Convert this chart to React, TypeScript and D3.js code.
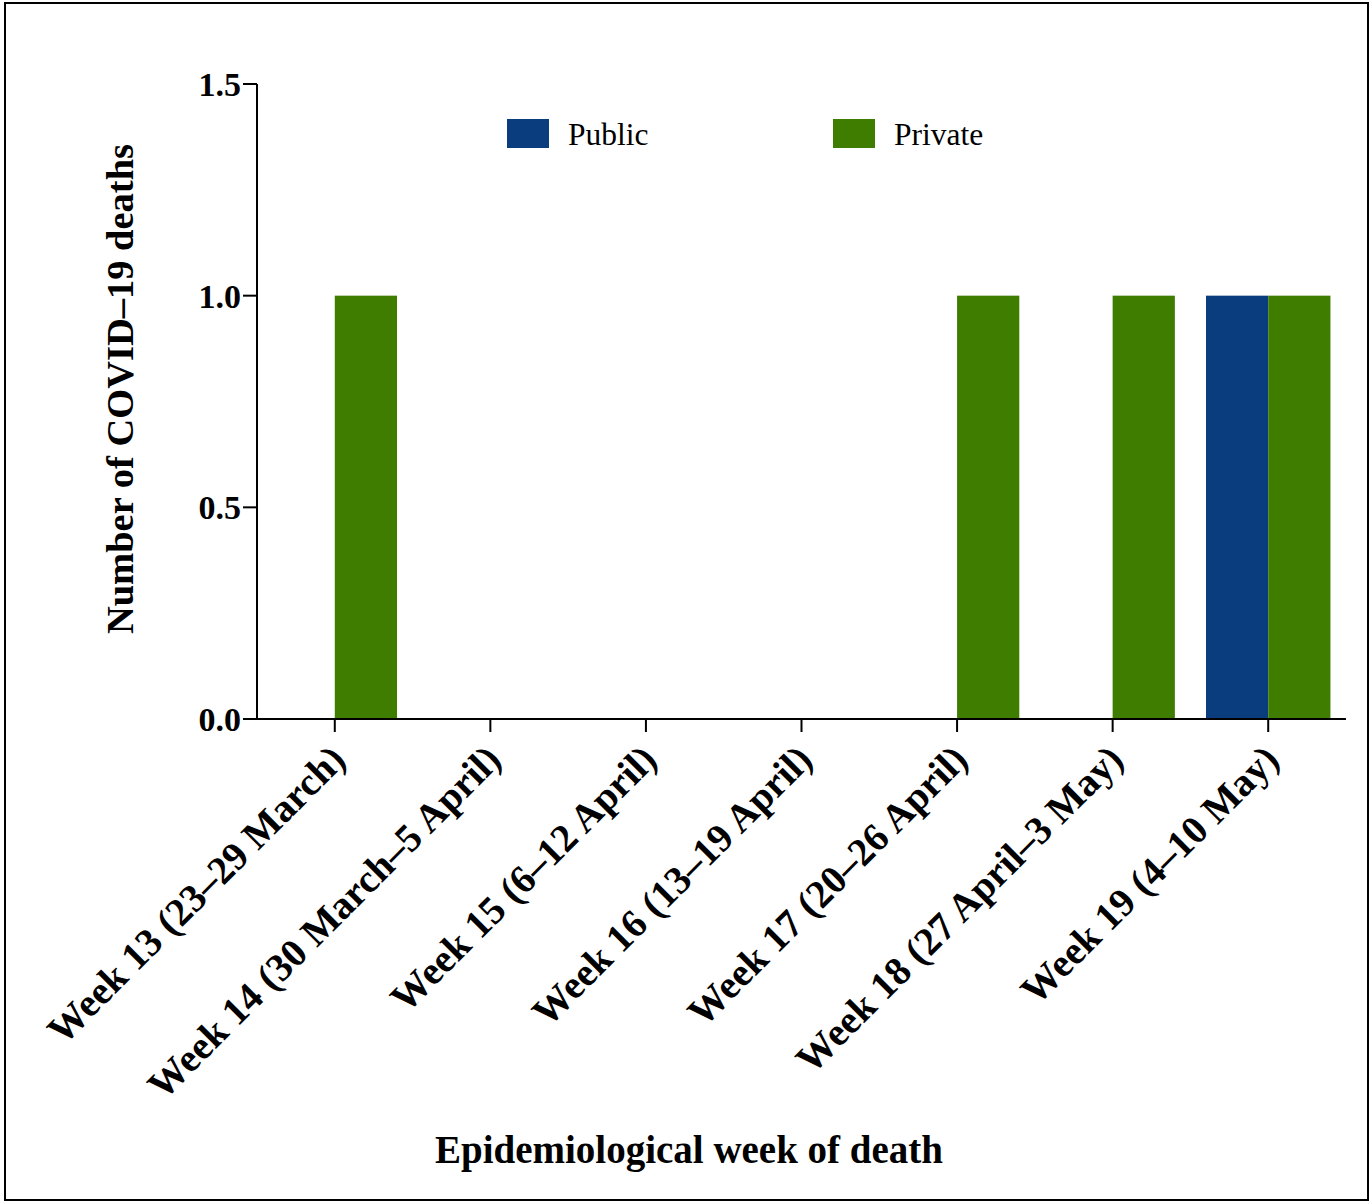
import React from "react";
import * as d3 from "d3";

const categories = [
  "Week 13 (23–29 March)",
  "Week 14 (30 March–5 April)",
  "Week 15 (6–12 April)",
  "Week 16 (13–19 April)",
  "Week 17 (20–26 April)",
  "Week 18 (27 April–3 May)",
  "Week 19 (4–10 May)",
];
const seriesNames = ["Public", "Private"];
const publicValues = [0, 0, 0, 0, 0, 0, 1];
const privateValues = [1, 0, 0, 0, 1, 1, 1];
const yTicks = [0, 0.5, 1.0, 1.5];
const colors = ["#0a3d7e", "#3f7d00"];

const W = 1372;
const H = 1203;
const FONT = "'Liberation Serif', 'DejaVu Serif', serif";

export default function App() {
  const x0 = d3.scaleBand().domain(categories).range([257, 1346]).paddingInner(0.2).paddingOuter(0.1);
  const x1 = d3.scaleBand().domain(seriesNames).range([0, x0.bandwidth()]);
  const y = d3.scaleLinear().domain([0, 1.5]).range([719, 84]);
  const values = [publicValues, privateValues];

  return (
    <svg width={W} height={H} style={{ position: "absolute", left: 0, top: 0, background: "#fff" }}>
      <rect x={5} y={3} width={1363} height={1197} fill="#fff" stroke="#000" strokeWidth={2} />
      {/* bars */}
      {values.map((vals, si) =>
        vals.map((v, ci) =>
          v > 0 ? (
            <rect
              key={`${si}-${ci}`}
              x={(x0(categories[ci]) as number) + (x1(seriesNames[si]) as number)}
              y={y(v)}
              width={x1.bandwidth()}
              height={y(0) - y(v)}
              fill={colors[si]}
            />
          ) : null
        )
      )}
      {/* y axis */}
      <line x1={257} x2={257} y1={y(1.5)} y2={y(0)} stroke="#000" strokeWidth={2} />
      {yTicks.map((t) => (
        <g key={t}>
          <line x1={243} x2={257} y1={y(t)} y2={y(t)} stroke="#000" strokeWidth={2} />
          <text x={241} y={y(t)} dy="0.35em" textAnchor="end" fontFamily={FONT} fontWeight="bold" fontSize={34}>
            {t.toFixed(1)}
          </text>
        </g>
      ))}
      {/* x axis */}
      <line x1={243} x2={1346} y1={y(0)} y2={y(0)} stroke="#000" strokeWidth={2} />
      {categories.map((c) => {
        const cx = (x0(c) as number) + x0.bandwidth() / 2;
        return (
          <g key={c}>
            <line x1={cx} x2={cx} y1={y(0)} y2={y(0) + 13} stroke="#000" strokeWidth={2} />
            <text
              transform={`translate(${cx + 3},${y(0) + 33}) rotate(-45)`}
              textAnchor="end"
              dy="0.35em"
              fontFamily={FONT}
              fontWeight="bold"
              fontSize={39.5}
            >
              {c}
            </text>
          </g>
        );
      })}
      {/* axis titles */}
      <text
        transform={`translate(121,389) rotate(-90)`}
        textAnchor="middle"
        dy="0.32em"
        fontFamily={FONT}
        fontWeight="bold"
        fontSize={38.5}
      >
        Number of COVID–19 deaths
      </text>
      <text x={689} y={1149} textAnchor="middle" dy="0.35em" fontFamily={FONT} fontWeight="bold" fontSize={39}>
        Epidemiological week of death
      </text>
      {/* legend */}
      {seriesNames.map((s, i) => {
        const lx = i === 0 ? 507 : 833;
        return (
          <g key={s}>
            <rect x={lx} y={119} width={42} height={29} fill={colors[i]} />
            <text x={lx + 61} y={134} dy="0.35em" fontFamily={FONT} fontSize={31.5}>
              {s}
            </text>
          </g>
        );
      })}
    </svg>
  );
}
